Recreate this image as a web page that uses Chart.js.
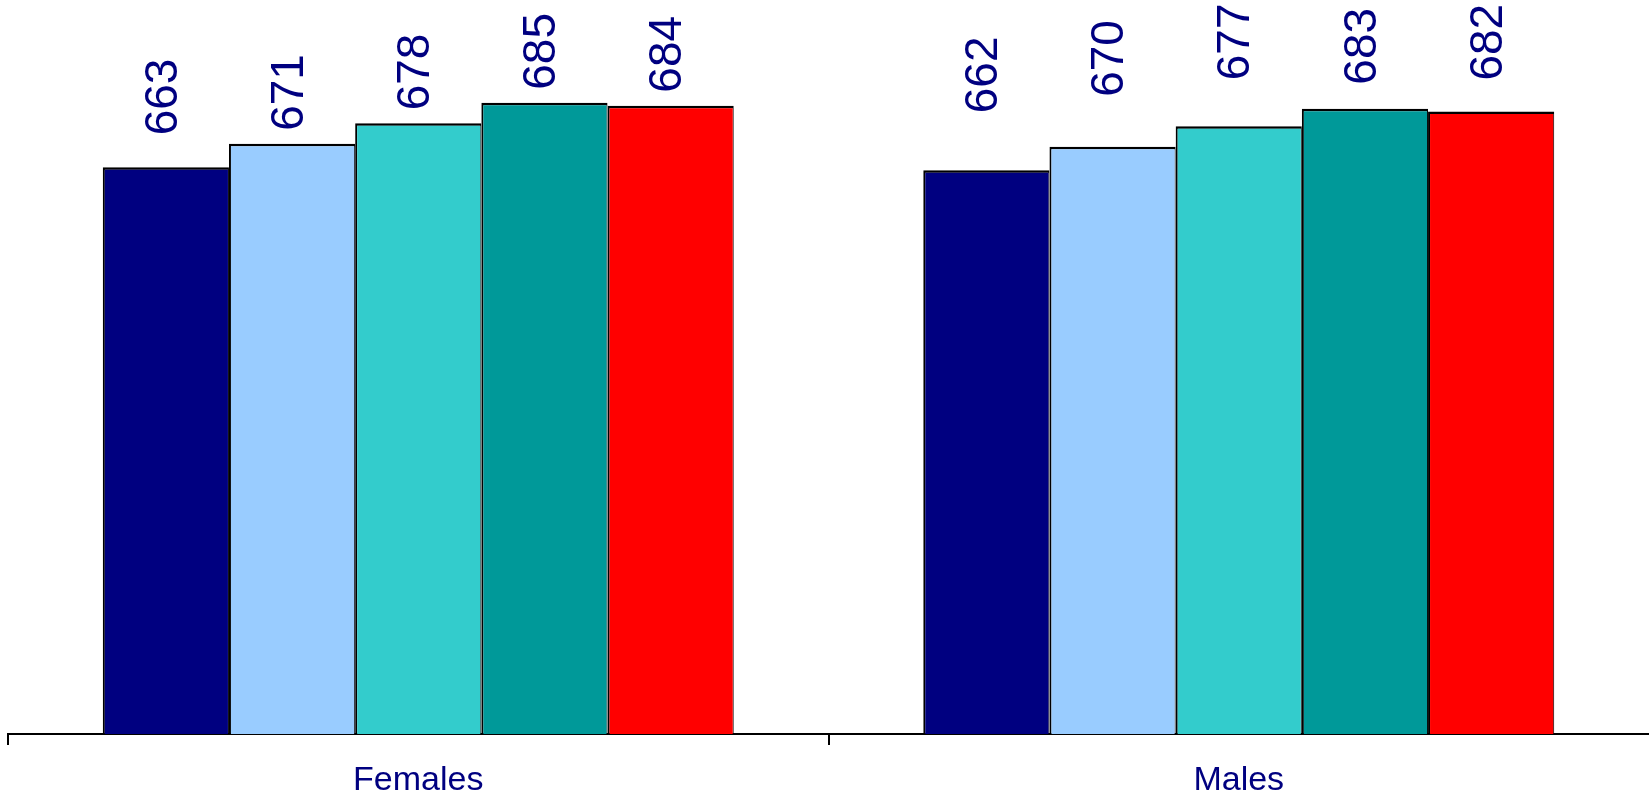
<!DOCTYPE html>
<html>
<head>
<meta charset="utf-8">
<script src="https://cdn.jsdelivr.net/npm/chart.js@4/dist/chart.umd.min.js"></script>
<style>
  html, body { margin: 0; padding: 0; background: #fff; }
  #wrap { width: 1649px; height: 797px; position: relative; }
</style>
</head>
<body>
<div id="wrap"><canvas id="chart"></canvas></div>
<script>
  "use strict";

  const categories = ["Females", "Males"];

  // one array per series (same order as the bars inside each group)
  const series1 = [663, 662];
  const series2 = [671, 670];
  const series3 = [678, 677];
  const series4 = [685, 683];
  const series5 = [684, 682];

  const seriesColors = ["#000080", "#99CCFF", "#33CCCC", "#009999", "#FF0000"];

  // gap (px) between bar top and its value label, as in the original layout
  const labelLift = [[32, 57], [13, 50], [13, 46], [13, 24], [13, 31]];

  const labelFont = "46px 'Liberation Sans', Arial, sans-serif";
  const navy = "#000080";

  const valueLabels = {
    id: "valueLabels",
    afterDatasetsDraw(chart) {
      const ctx = chart.ctx;
      ctx.save();
      ctx.font = labelFont;
      ctx.fillStyle = navy;
      ctx.textAlign = "left";
      ctx.textBaseline = "middle";
      chart.data.datasets.forEach((ds, i) => {
        chart.getDatasetMeta(i).data.forEach((bar, j) => {
          ctx.save();
          ctx.translate(bar.x - 2, bar.y - labelLift[i][j]);
          ctx.rotate(-Math.PI / 2);
          ctx.fillText(String(ds.data[j]), 0, 0);
          ctx.restore();
        });
      });
      ctx.restore();
    }
  };

  new Chart(document.getElementById("chart"), {
    type: "bar",
    data: {
      labels: categories,
      datasets: [series1, series2, series3, series4, series5].map((vals, i) => ({
        label: "Series " + (i + 1),
        data: vals,
        backgroundColor: seriesColors[i],
        borderColor: "#000",
        borderWidth: { top: 2.5, left: 2, right: 1, bottom: 0 },
        borderSkipped: false,
        barPercentage: 1,
        categoryPercentage: 0.769
      }))
    },
    options: {
      responsive: true,
      maintainAspectRatio: false,
      animation: false,
      layout: { padding: { left: 8, right: 0, top: 0, bottom: -20 } },
      plugins: {
        legend: { display: false },
        tooltip: { enabled: false }
      },
      scales: {
        y: {
          display: false,
          min: 470,
          max: 720
        },
        x: {
          offset: true,
          border: { display: true, color: "#000", width: 2 },
          grid: {
            offset: true,
            drawOnChartArea: false,
            drawTicks: true,
            tickLength: 11,
            lineWidth: 2,
            color: c => (c.tick ? "#000" : "rgba(0,0,0,0)")
          },
          ticks: {
            color: navy,
            padding: 19,
            maxRotation: 0,
            autoSkip: false,
            font: { family: "'Liberation Sans', Arial, sans-serif", size: 34, lineHeight: 1 }
          }
        }
      }
    },
    plugins: [valueLabels]
  });
</script>
</body>
</html>
